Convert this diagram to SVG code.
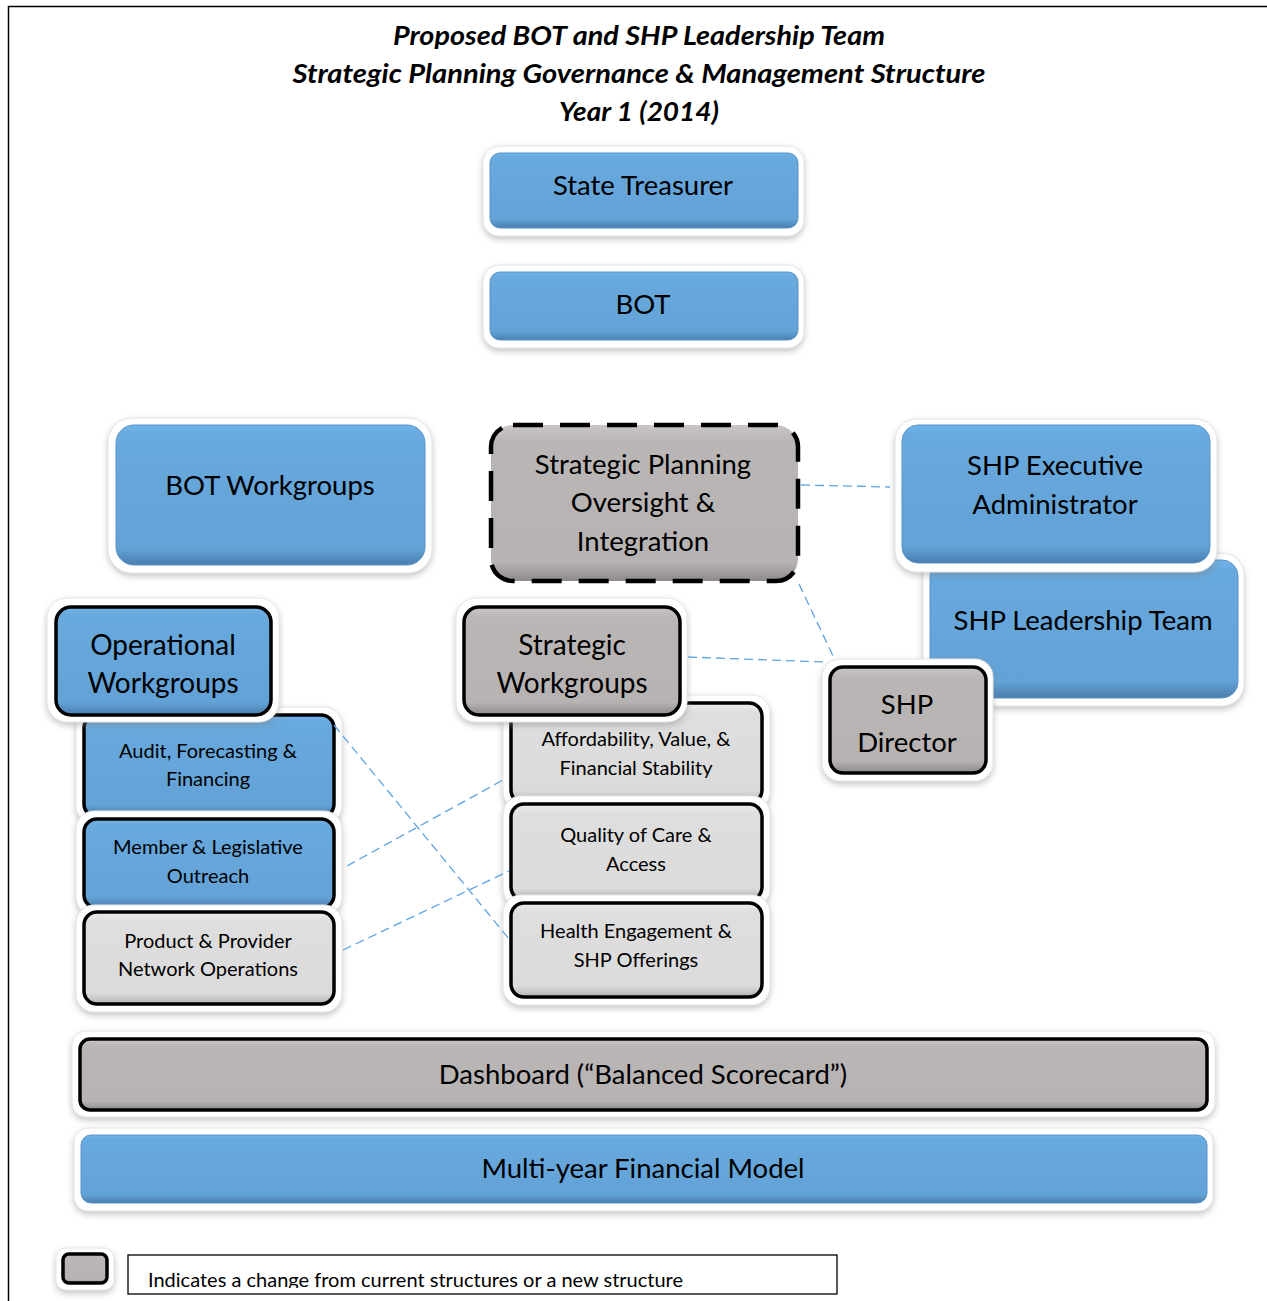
<svg xmlns="http://www.w3.org/2000/svg" width="1267" height="1301" viewBox="0 0 1267 1301">
<style>
  text { font-family: Lato, "Open Sans", "Liberation Sans", sans-serif; fill: #000; text-anchor: middle; }
  .t26 { font-size: 27.5px; }
  .t27 { font-size: 28px; }
  .t19 { font-size: 20px; }
  .title { font-size: 27px; font-weight: bold; font-style: italic; }
  .halo { fill: #fff; stroke: #e4e4e4; stroke-width: 1; filter: url(#sh); }
  .blue { fill: url(#gBlue); stroke: #5b93c6; stroke-width: 1; }
  .blueK { fill: url(#gBlue); stroke: #000; stroke-width: 3.5; }
  .grayK { fill: url(#gGray); stroke: #000; stroke-width: 3.5; }
  .lightK { fill: url(#gLight); stroke: #000; stroke-width: 3.5; }
  .conn { fill: none; stroke: #5ea4e2; stroke-width: 1.3; stroke-dasharray: 9 5; }
</style>
<defs>
  <filter id="sh" x="-10%" y="-20%" width="120%" height="150%">
    <feDropShadow dx="0" dy="3" stdDeviation="3" flood-color="#808080" flood-opacity="0.45"/>
  </filter>
  <linearGradient id="gBlue" x1="0" y1="0" x2="0" y2="1">
    <stop offset="0" stop-color="#70b4ea"/>
    <stop offset="0.07" stop-color="#68a9de"/>
    <stop offset="0.88" stop-color="#63a2d6"/>
    <stop offset="1" stop-color="#4a7eae"/>
  </linearGradient>
  <linearGradient id="gGray" x1="0" y1="0" x2="0" y2="1">
    <stop offset="0" stop-color="#cac6c6"/>
    <stop offset="0.1" stop-color="#bab6b6"/>
    <stop offset="0.88" stop-color="#b7b3b3"/>
    <stop offset="1" stop-color="#8e8a8a"/>
  </linearGradient>
  <linearGradient id="gLight" x1="0" y1="0" x2="0" y2="1">
    <stop offset="0" stop-color="#ececec"/>
    <stop offset="0.1" stop-color="#dedede"/>
    <stop offset="0.88" stop-color="#dbdbdb"/>
    <stop offset="1" stop-color="#b4b4b4"/>
  </linearGradient>
  <clipPath id="legClip"><rect x="128" y="1255" width="709" height="33"/></clipPath>
</defs>

<rect width="1267" height="1301" fill="#fff"/>
<path d="M8.5 1301 V6.5 H1267" fill="none" stroke="#000" stroke-width="1.5"/>

<g id="title">
  <text class="title" x="639" y="45" textLength="492" lengthAdjust="spacingAndGlyphs">Proposed BOT and SHP Leadership Team</text>
  <text class="title" x="639" y="83" textLength="693" lengthAdjust="spacingAndGlyphs">Strategic Planning Governance &amp; Management Structure</text>
  <text class="title" x="639" y="121" textLength="160" lengthAdjust="spacingAndGlyphs">Year 1 (2014)</text>
</g>

<g id="state-treasurer">
  <rect class="halo" x="483" y="146" width="321" height="90" rx="16"/>
  <rect class="blue" x="490" y="153" width="308" height="75" rx="10"/>
  <text class="t26" x="643" y="195">State Treasurer</text>
</g>

<g id="bot">
  <rect class="halo" x="483" y="265" width="321" height="83" rx="16"/>
  <rect class="blue" x="490" y="272" width="308" height="68" rx="10"/>
  <text class="t26" x="643" y="314">BOT</text>
</g>

<g id="bot-workgroups">
  <rect class="halo" x="108" y="418" width="324" height="155" rx="24"/>
  <rect class="blue" x="116" y="425" width="309" height="140" rx="18"/>
  <text class="t26" x="270" y="495">BOT Workgroups</text>
</g>

<g id="strategic-planning">
  <rect x="491" y="425" width="307" height="156" rx="22" fill="url(#gGray)" stroke="#000" stroke-width="4.5" stroke-dasharray="30 17"/>
  <text class="t26" x="643" y="474">Strategic Planning</text>
  <text class="t26" x="643" y="512">Oversight &amp;</text>
  <text class="t26" x="643" y="551">Integration</text>
</g>

<g id="shp-leadership-team">
  <rect class="halo" x="923" y="553" width="321" height="153" rx="22"/>
  <rect class="blue" x="930" y="560" width="308" height="138" rx="16"/>
  <text class="t26" x="1083" y="630">SHP Leadership Team</text>
</g>

<g id="shp-executive-administrator">
  <rect class="halo" x="895" y="419" width="322" height="153" rx="22"/>
  <rect class="blue" x="902" y="425" width="308" height="138" rx="16"/>
  <text class="t26" x="1055" y="475">SHP Executive</text>
  <text class="t26" x="1055" y="514">Administrator</text>
</g>

<g id="shp-director">
  <rect class="halo" x="822" y="659" width="171" height="122" rx="18"/>
  <rect class="grayK" x="830" y="667" width="156" height="106" rx="13"/>
  <text class="t26" x="907" y="714">SHP</text>
  <text class="t26" x="907" y="752">Director</text>
</g>

<g id="audit">
  <rect class="halo" x="76" y="707" width="266" height="117" rx="18"/>
  <rect class="blueK" x="84" y="715" width="250" height="102" rx="13"/>
  <text class="t19" x="208" y="758">Audit, Forecasting &amp;</text>
  <text class="t19" x="208" y="786">Financing</text>
</g>

<g id="member-legislative-outreach">
  <rect class="halo" x="76" y="811" width="266" height="104" rx="18"/>
  <rect class="blueK" x="84" y="819" width="250" height="89" rx="13"/>
  <text class="t19" x="208" y="854">Member &amp; Legislative</text>
  <text class="t19" x="208" y="883">Outreach</text>
</g>

<g id="product-provider">
  <rect class="halo" x="76" y="905" width="266" height="107" rx="18"/>
  <rect class="lightK" x="84" y="912" width="250" height="92" rx="13"/>
  <text class="t19" x="208" y="948">Product &amp; Provider</text>
  <text class="t19" x="208" y="976">Network Operations</text>
</g>

<g id="operational-workgroups">
  <rect class="halo" x="47" y="598" width="232" height="124" rx="20"/>
  <rect class="blueK" x="56" y="607" width="215" height="108" rx="15"/>
  <text class="t27" x="163" y="655">Operational</text>
  <text class="t27" x="163" y="693">Workgroups</text>
</g>

<g id="affordability">
  <rect class="halo" x="503" y="695" width="267" height="115" rx="18"/>
  <rect class="lightK" x="511" y="703" width="251" height="100" rx="13"/>
  <text class="t19" x="636" y="746">Affordability, Value, &amp;</text>
  <text class="t19" x="636" y="775">Financial Stability</text>
</g>

<g id="quality-of-care">
  <rect class="halo" x="503" y="796" width="267" height="111" rx="18"/>
  <rect class="lightK" x="511" y="804" width="251" height="96" rx="13"/>
  <text class="t19" x="636" y="842">Quality of Care &amp;</text>
  <text class="t19" x="636" y="871">Access</text>
</g>

<g id="health-engagement">
  <rect class="halo" x="503" y="895" width="267" height="110" rx="18"/>
  <rect class="lightK" x="511" y="903" width="251" height="94" rx="13"/>
  <text class="t19" x="636" y="938">Health Engagement &amp;</text>
  <text class="t19" x="636" y="967">SHP Offerings</text>
</g>

<g id="strategic-workgroups">
  <rect class="halo" x="456" y="598" width="231" height="124" rx="20"/>
  <rect class="grayK" x="464" y="607" width="216" height="108" rx="15"/>
  <text class="t27" x="572" y="655">Strategic</text>
  <text class="t27" x="572" y="693">Workgroups</text>
</g>

<g id="connectors">
  <line class="conn" x1="801" y1="485" x2="890" y2="487"/>
  <line class="conn" x1="799" y1="584" x2="834" y2="658"/>
  <line class="conn" x1="688" y1="657" x2="825" y2="662"/>
  <line class="conn" x1="334" y1="725" x2="509" y2="939"/>
  <line class="conn" x1="347" y1="866" x2="503" y2="780"/>
  <line class="conn" x1="343" y1="950" x2="509" y2="871"/>
</g>

<g id="dashboard">
  <rect class="halo" x="72" y="1031" width="1143" height="86" rx="14"/>
  <rect class="grayK" x="80" y="1039" width="1127" height="71" rx="10"/>
  <text class="t26" x="643" y="1084">Dashboard (“Balanced Scorecard”)</text>
</g>

<g id="multi-year-financial-model">
  <rect class="halo" x="74" y="1128" width="1139" height="83" rx="14"/>
  <rect class="blue" x="81" y="1135" width="1126" height="68" rx="10"/>
  <text class="t26" x="643" y="1178">Multi-year Financial Model</text>
</g>

<g id="legend">
  <rect class="halo" x="56" y="1248" width="58" height="42" rx="10"/>
  <rect class="grayK" x="63" y="1254" width="44" height="29" rx="6"/>
  <rect x="128" y="1255" width="709" height="39" fill="#fff" stroke="#000" stroke-width="1.3"/>
  <g clip-path="url(#legClip)">
    <text x="148" y="1287" style="font-size:20px;text-anchor:start">Indicates a change from current structures or a new structure</text>
  </g>
</g>
</svg>
